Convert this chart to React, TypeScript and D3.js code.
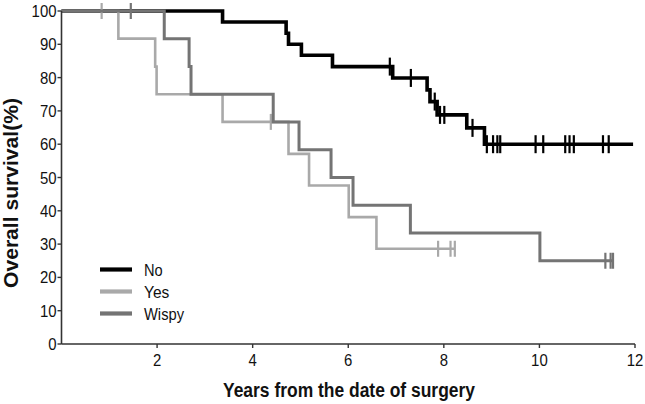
import React from "react";
import * as d3 from "d3";

const xTicks = [2, 4, 6, 8, 10, 12];
const yTicks = [0, 10, 20, 30, 40, 50, 60, 70, 80, 90, 100];

const noTimes = [3.37, 4.7, 4.75, 5.02, 5.67, 6.93, 7.65, 7.71, 7.86, 8.48, 8.85];
const noSurv = [96.7, 93.3, 90.0, 86.7, 83.3, 79.9, 76.3, 72.8, 68.8, 64.9, 60.0];
const noCensor = [6.87, 7.31, 7.81, 7.92, 8.01, 8.6, 8.9, 9.03, 9.12, 9.18, 9.92, 10.08, 10.54, 10.63, 10.72, 11.33, 11.45];
const noEnd = 11.96;

const yesTimes = [1.19, 1.96, 1.99, 3.37, 4.75, 5.18, 6.01, 6.59];
const yesSurv = [91.7, 83.3, 75.0, 66.7, 57.1, 47.6, 38.1, 28.6];
const yesCensor = [0.84, 4.38, 7.88, 8.14, 8.23];
const yesEnd = 8.23;

const wispyTimes = [2.15, 2.67, 2.71, 4.43, 4.97, 5.64, 6.1, 7.3, 10.01];
const wispySurv = [91.7, 83.3, 75.0, 66.7, 58.3, 50.0, 41.7, 33.3, 25.0];
const wispyCensor = [1.45, 11.38, 11.49, 11.54];
const wispyEnd = 11.54;

const seriesNames = ["No", "Yes", "Wispy"];

const x = d3.scaleLinear().domain([0, 12]).range([61.5, 635]);
const y = d3.scaleLinear().domain([0, 100]).range([344, 11]);

function survAt(times: number[], surv: number[], t: number) {
  let s = 100;
  for (let i = 0; i < times.length; i++) if (times[i] <= t) s = surv[i];
  return s;
}

function stepPath(times: number[], surv: number[], end: number) {
  const pts: [number, number][] = [[0, 100]];
  times.forEach((t, i) => pts.push([t, surv[i]]));
  pts.push([end, surv[surv.length - 1]]);
  const line = d3
    .line<[number, number]>()
    .x((d) => x(d[0]))
    .y((d) => y(d[1]))
    .curve(d3.curveStepAfter);
  return line(pts) || "";
}

const series = [
  { name: seriesNames[0], times: noTimes, surv: noSurv, censor: noCensor, end: noEnd, color: "#000000", w: 3.6, th: 9, lw: 18.7 },
  { name: seriesNames[1], times: yesTimes, surv: yesSurv, censor: yesCensor, end: yesEnd, color: "#a9a9a9", w: 2.6, th: 8, lw: 25.3 },
  { name: seriesNames[2], times: wispyTimes, surv: wispySurv, censor: wispyCensor, end: wispyEnd, color: "#747474", w: 3.0, th: 8, lw: 40 },
];

export default function App() {
  const font = "'Liberation Sans', Arial, sans-serif";
  return (
    <svg width={645} height={404} style={{ position: "absolute", left: 0, top: 0, background: "#fff" }}>
      <rect width={645} height={404} fill="#fff" />
      {series.map((s) => (
        <g key={s.name}>
          <path d={stepPath(s.times, s.surv, s.end)} fill="none" stroke={s.color} strokeWidth={s.w} strokeLinejoin="miter" />
          {s.censor.map((c, i) => {
            const yy = y(survAt(s.times, s.surv, c));
            return <line key={i} x1={x(c)} x2={x(c)} y1={yy - s.th} y2={yy + s.th} stroke={s.color} strokeWidth={2.2} />;
          })}
        </g>
      ))}
      {/* axes */}
      <line x1={x(0)} x2={x(12)} y1={y(0)} y2={y(0)} stroke="#333" strokeWidth={1.6} />
      <line x1={x(0)} x2={x(0)} y1={y(0)} y2={y(100)} stroke="#333" strokeWidth={1.6} />
      {xTicks.map((t) => (
        <g key={t}>
          <line x1={x(t)} x2={x(t)} y1={y(0)} y2={y(0) + 4} stroke="#333" strokeWidth={1.4} />
          <text
            x={x(t)}
            y={365.5}
            textAnchor="middle"
            fontFamily={font}
            fontSize={16.5}
            textLength={String(t).length * 8.3}
            lengthAdjust="spacingAndGlyphs"
            fill="#111"
          >
            {t}
          </text>
        </g>
      ))}
      {yTicks.map((t) => (
        <g key={t}>
          <line x1={x(0) - 4} x2={x(0)} y1={y(t)} y2={y(t)} stroke="#333" strokeWidth={1.4} />
          <text
            x={56.5}
            y={y(t) + 6}
            textAnchor="end"
            fontFamily={font}
            fontSize={16}
            textLength={String(t).length * 8.3}
            lengthAdjust="spacingAndGlyphs"
            fill="#111"
          >
            {t}
          </text>
        </g>
      ))}
      {/* legend */}
      {series.map((s, i) => (
        <g key={s.name}>
          <line x1={100} x2={132} y1={269.5 + i * 22} y2={269.5 + i * 22} stroke={s.color} strokeWidth={4.2} />
          <text
            x={144}
            y={276 + i * 22}
            fontFamily={font}
            fontSize={17}
            textLength={s.lw}
            lengthAdjust="spacingAndGlyphs"
            fill="#111"
          >
            {s.name}
          </text>
        </g>
      ))}
      <text
        x={349}
        y={396.5}
        textAnchor="middle"
        fontFamily={font}
        fontWeight="bold"
        fontSize={20}
        textLength={252}
        lengthAdjust="spacingAndGlyphs"
        fill="#111"
      >
        Years from the date of surgery
      </text>
      <text
        transform="translate(17.5,193) rotate(-90)"
        textAnchor="middle"
        fontFamily={font}
        fontWeight="bold"
        fontSize={19.5}
        textLength={190}
        lengthAdjust="spacingAndGlyphs"
        fill="#111"
      >
        Overall survival(%)
      </text>
    </svg>
  );
}
